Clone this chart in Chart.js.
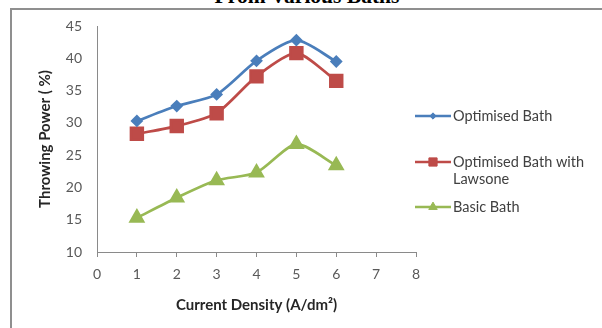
<!DOCTYPE html>
<html>
<head>
<meta charset="utf-8">
<script src="https://cdn.jsdelivr.net/npm/chart.js@4/dist/chart.umd.min.js"></script>
<style>
  html, body { margin: 0; padding: 0; background: #fff; }
  #wrap { position: relative; width: 602px; height: 328px; overflow: hidden; }
  #title { position: absolute; left: 0; width: 614px; top: -14px; text-align: center;
           font: bold 21.5px "Liberation Serif", "Times New Roman", serif; line-height: 21.5px; color: #000; }
  #frame { position: absolute; left: 10px; top: 8px; width: 600px; height: 330px;
           border-left: 2px solid #8f8f8f; border-top: 2px solid #8f8f8f; }
  canvas { position: absolute; left: 0; top: 0; }
</style>
</head>
<body>
<div id="wrap">
  <div id="title">From Various Baths</div>
  <div id="frame"></div>
  <canvas id="c" width="602" height="328"></canvas>
</div>
<script>
const currentDensity = [1, 2, 3, 4, 5, 6];
const optimisedBath = [30.3, 32.6, 34.4, 39.6, 42.8, 39.5];
const optimisedLawsone = [28.3, 29.5, 31.5, 37.2, 40.8, 36.5];
const basicBath = [15.3, 18.4, 21.1, 22.3, 26.7, 23.4];
const seriesLabels = ['Optimised Bath', 'Optimised Bath with Lawsone', 'Basic Bath'];
const xTickValues = [0, 1, 2, 3, 4, 5, 6, 7, 8];
const yTickValues = [10, 15, 20, 25, 30, 35, 40, 45];

const pts = arr => currentDensity.map((x, i) => ({ x: x, y: arr[i] }));

const legendPlugin = {
  id: 'sideLegend',
  afterDraw(chart, args, opts) {
    const ctx = chart.ctx;
    ctx.save();
    ctx.font = opts.font;
    ctx.textBaseline = 'middle';
    ctx.textAlign = 'left';
    chart.data.datasets.forEach((ds, i) => {
      const y = opts.ys[i];
      ctx.strokeStyle = ds.borderColor;
      ctx.fillStyle = ds.backgroundColor;
      ctx.lineWidth = ds.borderWidth;
      ctx.beginPath();
      ctx.moveTo(opts.x, y);
      ctx.lineTo(opts.x + opts.lineLen, y);
      ctx.stroke();
      ctx.lineWidth = 1;
      Chart.helpers.drawPoint(ctx, {
        pointStyle: ds.pointStyle,
        radius: ds.pointRadius * opts.markerScale,
        rotation: 0,
        borderWidth: 1
      }, opts.x + opts.lineLen / 2, y);
      ctx.fillStyle = opts.color;
      const words = ds.label.split(' ');
      const lines = [];
      let cur = '';
      words.forEach(w => {
        const t = cur ? cur + ' ' + w : w;
        if (ctx.measureText(t).width > opts.maxWidth && cur) { lines.push(cur); cur = w; }
        else cur = t;
      });
      if (cur) lines.push(cur);
      lines.forEach((ln, k) => ctx.fillText(ln, opts.x + opts.lineLen + opts.gap, y + k * opts.lineHeight));
    });
    ctx.restore();
  }
};

const axisColor = '#8a8a8a';
const tickColor = '#595959';

new Chart(document.getElementById('c'), {
  type: 'line',
  data: {
    datasets: [
      { label: seriesLabels[0], data: pts(optimisedBath), borderColor: '#4A7EBB', backgroundColor: '#4A7EBB',
        pointBackgroundColor: '#4A7EBB', pointBorderColor: '#4A7EBB', pointStyle: 'rectRot', pointRadius: 4.5, borderWidth: 2.7, tension: 0.25 },
      { label: seriesLabels[1], data: pts(optimisedLawsone), borderColor: '#BE4B48', backgroundColor: '#BE4B48',
        pointBackgroundColor: '#BE4B48', pointBorderColor: '#BE4B48', pointStyle: 'rect', pointRadius: 8.3, borderWidth: 2.7, tension: 0.25 },
      { label: seriesLabels[2], data: pts(basicBath), borderColor: '#98B954', backgroundColor: '#98B954',
        pointBackgroundColor: '#98B954', pointBorderColor: '#98B954', pointStyle: 'triangle', pointRadius: 7, borderWidth: 2.7, tension: 0.25 }
    ]
  },
  options: {
    responsive: false,
    animation: false,
    devicePixelRatio: 1,
    layout: { padding: { left: 0, right: 186, top: 26, bottom: 0 } },
    plugins: {
      legend: { display: false },
      tooltip: { enabled: false },
      sideLegend: { x: 415, lineLen: 36, gap: 2, ys: [116, 162, 207], maxWidth: 150, lineHeight: 17,
                    font: '14.5px Lato', color: '#404040', markerScale: 0.7 }
    },
    scales: {
      x: {
        type: 'linear', min: 0, max: 8,
        afterFit(s) { s.height = 76; },
        afterBuildTicks(s) { s.ticks = xTickValues.map(v => ({ value: v })); },
        grid: { display: true, drawOnChartArea: false, drawTicks: true, tickLength: 5, color: axisColor },
        border: { display: true, color: axisColor, width: 1 },
        ticks: { color: tickColor, font: { family: 'Lato', size: 14 }, padding: 9, maxRotation: 0, autoSkip: false },
        title: { display: true, text: 'Current Density (A/dm²)', color: '#262626',
                 font: { family: 'Lato', size: 15, weight: 'bold' }, padding: { top: 0, bottom: 14 } }
      },
      y: {
        min: 10, max: 45,
        afterFit(s) { s.width = 97; },
        afterBuildTicks(s) { s.ticks = yTickValues.map(v => ({ value: v })); },
        grid: { display: false, drawTicks: false },
        border: { display: true, color: axisColor, width: 1 },
        ticks: { color: tickColor, font: { family: 'Lato', size: 14 }, padding: 15, autoSkip: false },
        title: { display: true, text: 'Throwing Power ( %)', color: '#262626',
                 font: { family: 'Lato', size: 15, weight: 'bold' }, padding: { top: 36, bottom: 0 } }
      }
    }
  },
  plugins: [legendPlugin]
});
</script>
</body>
</html>
